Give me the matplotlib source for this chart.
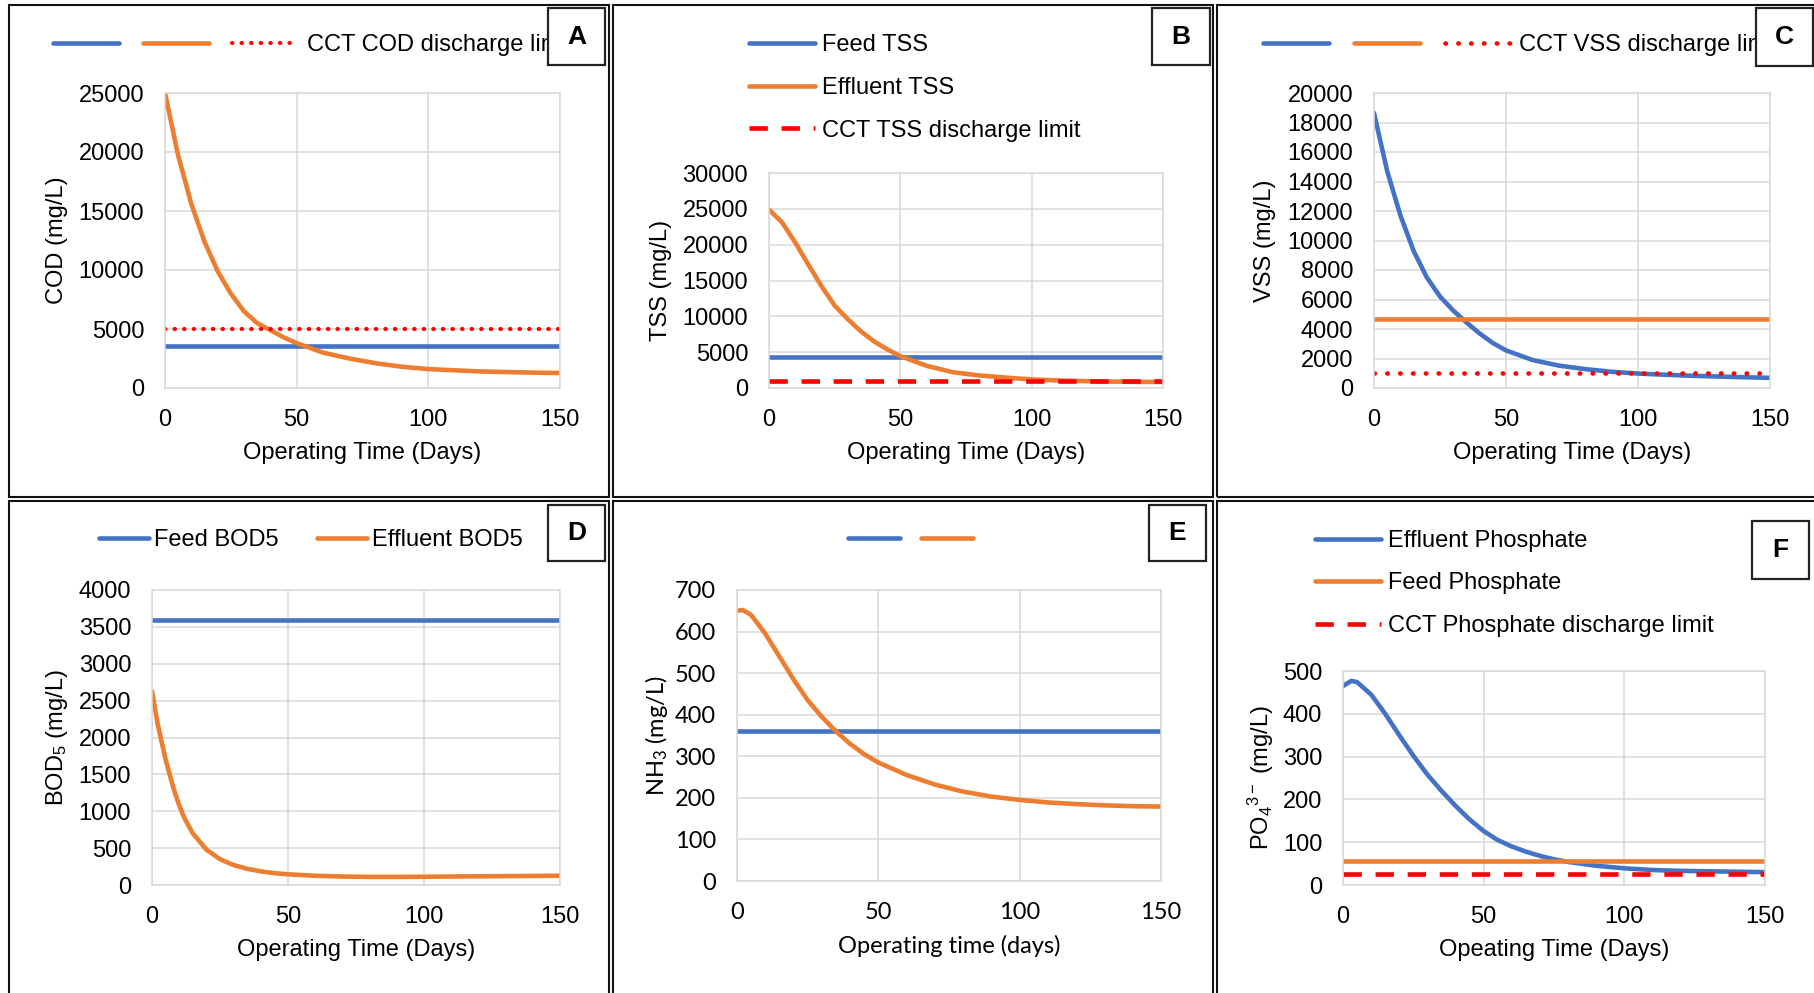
import matplotlib.pyplot as plt
from matplotlib.patches import Rectangle

plt.rcParams['font.family'] = ['Liberation Sans', 'DejaVu Sans']
plt.rcParams['mathtext.fontset'] = 'custom'
plt.rcParams['mathtext.rm'] = 'Liberation Sans'
plt.rcParams['mathtext.it'] = 'Liberation Sans:italic'

BLUE = '#4472C4'
ORANGE = '#ED7D31'
RED = '#FF0000'
GRID = '#D9D9D9'

# ---- data ----
days = [0, 5, 10, 15, 20, 25, 30, 35, 40, 45, 50, 60, 70, 80, 90, 100, 110, 120, 130, 140, 150]

# A - COD
feed_cod = 3600
limit_cod = 5000
eff_cod = [25000, 19700, 15600, 12400, 9900, 8000, 6500, 5500, 4900, 4300, 3800,
           3000, 2500, 2100, 1800, 1600, 1500, 1400, 1350, 1300, 1270]

# B - TSS
feed_tss = 4300
limit_tss = 1000
eff_tss = [24900, 23100, 20300, 17200, 14200, 11500, 9600, 7900, 6500, 5400, 4450,
           3100, 2200, 1750, 1450, 1200, 1050, 960, 900, 860, 840]

# C - VSS
feed_vss = 4700
limit_vss = 1000
eff_vss = [18650, 14700, 11700, 9300, 7500, 6200, 5250, 4450, 3700, 3050, 2550,
           1900, 1520, 1280, 1100, 980, 900, 830, 780, 730, 690]

# D - BOD5
days_bod = [0, 2, 5, 8, 10, 12, 15, 20, 25, 30, 35, 40, 45, 50, 60, 70, 80, 90, 100,
            110, 120, 130, 140, 150]
feed_bod = 3600
eff_bod = [2630, 2200, 1700, 1300, 1080, 900, 700, 480, 350, 270, 220, 185, 160, 145,
           125, 115, 110, 110, 112, 115, 118, 120, 123, 126]

# E - NH3
days_nh3 = [0, 2, 5, 10, 15, 20, 25, 30, 35, 40, 45, 50, 60, 70, 80, 90, 100, 110,
            120, 130, 140, 150]
feed_nh3 = 360
eff_nh3 = [650, 652, 640, 595, 540, 485, 435, 395, 360, 330, 305, 285, 255, 232, 215,
           203, 195, 189, 185, 182, 180, 179]

# F - phosphate
days_po4 = [0, 3, 5, 10, 15, 20, 25, 30, 35, 40, 45, 50, 55, 60, 65, 70, 75, 80, 90,
            100, 110, 120, 130, 140, 150]
feed_po4 = 56
limit_po4 = 25
eff_po4 = [465, 477, 474, 445, 400, 350, 302, 258, 220, 185, 153, 126, 105, 90, 78, 68,
           60, 54, 45, 39, 35, 33, 32, 31, 30]

W, H = 1814, 993
fig = plt.figure(figsize=(W / 100, H / 100), dpi=100)


def frac(x0, y0, x1, y1):
    return [x0 / W, 1 - y1 / H, (x1 - x0) / W, (y1 - y0) / H]


def make_axes(box, ymax, ystep, ylabel, xlabel, ylab_dx, font=None, fs=17):
    ax = fig.add_axes(frac(*box))
    ax.set_xlim(0, 150)
    ax.set_ylim(0, ymax)
    ax.set_xticks([0, 50, 100, 150])
    ax.set_yticks(range(0, ymax + 1, ystep))
    ax.grid(True, color=GRID, lw=1.1)
    ax.set_axisbelow(True)
    for s in ax.spines.values():
        s.set_color(GRID)
        s.set_linewidth(1.1)
    ax.tick_params(length=0, labelsize=fs, pad=15)
    kw = {'fontsize': fs}
    if font:
        kw['family'] = font
        for lab in ax.get_xticklabels() + ax.get_yticklabels():
            lab.set_family(font)
    ax.set_ylabel(ylabel, va='center', ha='center', **kw)
    ax.yaxis.set_label_coords(ylab_dx / (box[2] - box[0]), 0.5)
    ax.set_xlabel(xlabel, va='center', ha='center', **kw)
    ax.xaxis.set_label_coords(0.5, -65 / (box[3] - box[1]))
    return ax


def line(ax, x, y, color, dashes=None, dotted=False, lw=3.3):
    if dotted:
        return ax.plot(x, y, color=color, lw=lw, ls=(0, dashes),
                       dash_capstyle='round')[0]
    if dashes:
        return ax.plot(x, y, color=color, lw=lw, ls=(0, dashes))[0]
    return ax.plot(x, y, color=color, lw=lw, solid_capstyle='round')[0]


def legend(ax, handles, labels, x, y, ncol, hl=2.8, tp=0.35, cs=0.65, ls=0.87,
           font=None, fs=17):
    prop = {'size': fs}
    if font:
        prop['family'] = font
    ax.legend(handles, labels, loc='center left', bbox_to_anchor=(x / W, 1 - y / H),
              bbox_transform=fig.transFigure, ncol=ncol, frameon=False, borderpad=0,
              borderaxespad=0, handlelength=hl, handletextpad=tp, columnspacing=cs,
              labelspacing=ls, prop=prop)


def tag(letter, x0, y0, x1, y1):
    fig.add_artist(Rectangle((x0 / W, 1 - y1 / H), (x1 - x0) / W, (y1 - y0) / H,
                             transform=fig.transFigure, facecolor='white',
                             edgecolor='#222222', lw=1.6, zorder=5))
    fig.text((x0 + x1) / 2 / W, 1 - (y0 + y1) / 2 / H, letter, ha='center', va='center',
             fontsize=19, fontweight='bold', zorder=6)


# panel frames
for fx0, fy0, fx1, fy1 in [(9, 5, 609, 497), (613, 5, 1213, 497), (1217, 5, 1820, 497),
                           (9, 501, 609, 1000), (613, 501, 1213, 1000),
                           (1217, 501, 1820, 1000)]:
    fig.add_artist(Rectangle((fx0 / W, 1 - fy1 / H), (fx1 - fx0) / W, (fy1 - fy0) / H,
                             transform=fig.transFigure, facecolor='none',
                             edgecolor='#111111', lw=1.5, zorder=1))

xlab = 'Operating Time (Days)'

# A
ax = make_axes((165, 93, 560, 388), 25000, 5000, 'COD (mg/L)', xlab, -108)
h1 = line(ax, days, [feed_cod] * len(days), BLUE)
h2 = line(ax, days, eff_cod, ORANGE)
h3 = line(ax, days, [limit_cod] * len(days), RED, (0.1, 2.2), dotted=True, lw=3)
legend(ax, [h1, h2, h3], ['', '', 'CCT COD discharge limit'], 53, 45, 3)
tag('A', 548, 8, 605, 65)

# B
ax = make_axes((769, 173, 1163, 388), 30000, 5000, 'TSS (mg/L)', xlab, -108)
h1 = line(ax, days, [feed_tss] * len(days), BLUE)
h2 = line(ax, days, eff_tss, ORANGE)
h3 = line(ax, days, [limit_tss] * len(days), RED, (4, 3))
legend(ax, [h1, h2, h3], ['Feed TSS', 'Effluent TSS', 'CCT TSS discharge limit'],
       749, 88, 1, tp=0.3)
tag('B', 1152, 8, 1210, 65)

# C
ax = make_axes((1374, 93, 1770, 388), 20000, 2000, 'VSS (mg/L)', xlab, -109)
h1 = line(ax, days, eff_vss, BLUE)
h2 = line(ax, days, [feed_vss] * len(days), ORANGE)
h3 = line(ax, days, [limit_vss] * len(days), RED, (0.1, 2.7), dotted=True)
legend(ax, [h1, h2, h3], ['', '', 'CCT VSS discharge limit'], 1263, 45, 3, cs=0.7)
tag('C', 1756, 8, 1813, 66)

# D
ax = make_axes((152, 590, 560, 885), 4000, 500, r'BOD$_\mathregular{5}$ (mg/L)', xlab, -95)
h1 = line(ax, days_bod, [feed_bod] * len(days_bod), BLUE)
h2 = line(ax, days_bod, eff_bod, ORANGE)
legend(ax, [h1, h2], ['Feed BOD5', 'Effluent BOD5'], 99, 540, 2, hl=2.1, tp=0.22,
       cs=1.65)
tag('D', 548, 505, 605, 561)

# E
ax = make_axes((737, 590, 1161, 881), 700, 100, r'NH$_\mathregular{3}$ (mg/L)',
               'Operating time (days)', -80, font='Lato', fs=17)
h1 = line(ax, days_nh3, [feed_nh3] * len(days_nh3), BLUE)
h2 = line(ax, days_nh3, eff_nh3, ORANGE)
legend(ax, [h1, h2], ['', ''], 848, 540, 2, hl=2.2, tp=0.2, cs=0.7)
tag('E', 1149, 505, 1206, 561)

# F
ax = make_axes((1343, 671, 1765, 885), 500, 100,
               r'PO$_\mathregular{4}$$^\mathregular{3-}$ (mg/L)', 'Opeating Time (Days)', -82)
h1 = line(ax, days_po4, eff_po4, BLUE)
h2 = line(ax, days_po4, [feed_po4] * len(days_po4), ORANGE)
h3 = line(ax, days_po4, [limit_po4] * len(days_po4), RED, (4, 3))
legend(ax, [h1, h2, h3], ['Effluent Phosphate', 'Feed Phosphate',
                          'CCT Phosphate discharge limit'], 1315, 583.5, 1, tp=0.3)
tag('F', 1752, 521, 1809, 579)

fig.savefig('out.png', dpi=100)
